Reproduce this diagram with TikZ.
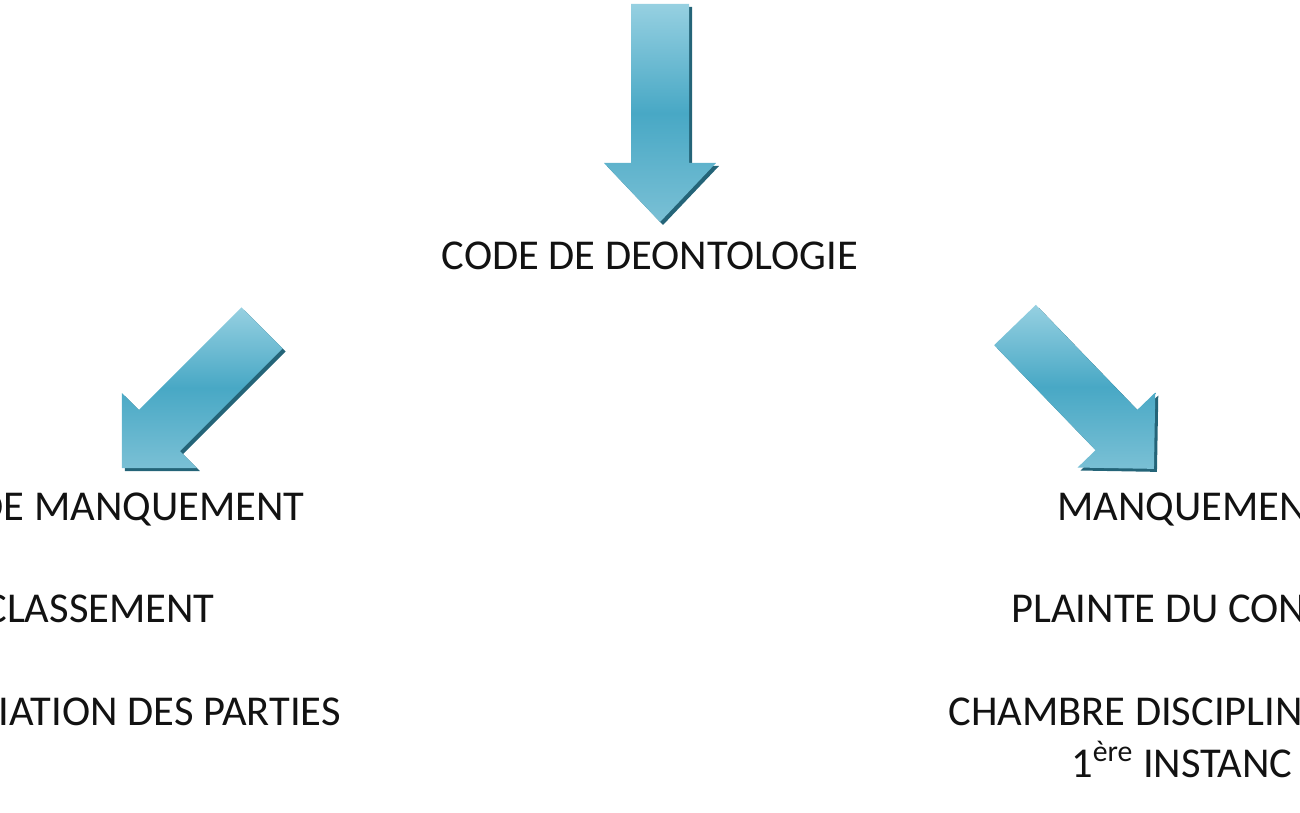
\documentclass[tikz,border=0pt]{standalone}
\usepackage{fontspec}
\setmainfont{Carlito}
\usetikzlibrary{positioning}
\definecolor{dclight}{RGB}{150,208,225}
\definecolor{dcblue}{RGB}{72,168,197}
\definecolor{dchead}{RGB}{122,192,213}
\definecolor{dcdark}{RGB}{36,100,120}
\definecolor{dctext}{RGB}{18,18,18}

% block arrow along +x: length, head half width, head length, style
\tikzset{
  pics/blockarrow/.style n args={4}{code={
    \path[#4] (0,29) -- (#1-#3,29) -- (#1-#3,#2) -- (#1,0)
      -- (#1-#3,-#2) -- (#1-#3,-29) -- (0,-29) -- cycle;
  }}
}

\begin{document}
\begin{tikzpicture}[
  x=0.02cm, y=-0.02cm,
  txt/.style={font=\fontsize{24.2}{29}\selectfont, text=dctext, inner sep=0pt},
  arrowbody/.style={top color=dclight, bottom color=dchead, middle color=dcblue},
  arrowshadow/.style={fill=dcdark}
]
\useasboundingbox (0,0) rectangle (1300,813);
\clip (0,0) rectangle (1300,813);

% Arrows (shadow first, then body)
\foreach \dx/\st in {3/arrowshadow, 0/arrowbody} {
  \pic[rotate=-90] at (660+\dx,4+\dx) {blockarrow={218}{56}{59}{\st}};
  \pic[rotate=-135] at (262+\dx,328+\dx) {blockarrow={198}{53}{53}{\st}};
  \pic[rotate=-46] at (1015+\dx,325+\dx) {blockarrow={200}{54}{54}{\st}};
}

% Top
\node[txt, anchor=base] (code) at (650,270) {CODE DE DEONTOLOGIE};

% Left branch
\node[txt, anchor=base east] (none) at (305,520) {DE MANQUEMENT};
\node[txt, anchor=base east] (classt) at (215,622) {CLASSEMENT};
\node[txt, anchor=base east] (concil) at (341,725) {IATION DES PARTIES};

% Right branch
\node[txt, anchor=base west] (manq) at (1057,520) {MANQUEMEN};
\node[txt, anchor=base west] (plainte) at (1011,622) {PLAINTE DU CON};
\node[txt, anchor=base west] (chambre) at (948,725) {CHAMBRE DISCIPLIN};
\node[txt, anchor=base west] (inst) at (1071,777) {1\textsuperscript{ère} INSTANC};

\end{tikzpicture}
\end{document}
